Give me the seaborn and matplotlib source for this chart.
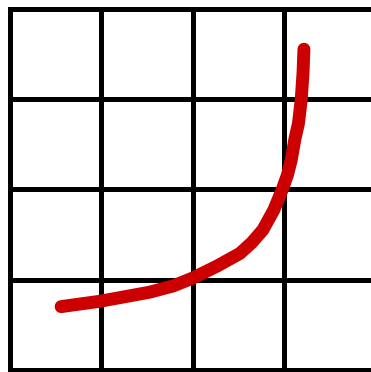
import matplotlib
matplotlib.use('Agg')

import pandas as pd
import matplotlib.pyplot as plt
import seaborn as sns

# grid cells (tick positions along each axis)
grid_x = [0, 1, 2, 3, 4]
grid_y = [0, 1, 2, 3, 4]

# red curve in grid units
curve_x = [0.56, 0.99, 1.26, 1.53, 1.79, 2.01, 2.27, 2.52, 2.65, 2.77,
           2.89, 2.98, 3.04, 3.08, 3.12, 3.16, 3.19, 3.21, 3.22]
curve_y = [0.70, 0.76, 0.81, 0.86, 0.93, 1.02, 1.15, 1.29, 1.41, 1.55,
           1.77, 1.99, 2.16, 2.32, 2.55, 2.73, 2.99, 3.29, 3.55]

df = pd.DataFrame({'x': curve_x, 'y': curve_y})

sns.set_style('white')

fig = plt.figure(figsize=(3.71, 3.72), dpi=100)
fig.patch.set_facecolor('white')
ax = fig.add_axes([0.0269, 0.0058, 0.9843, 0.9711])

# ------------------------------------------------------------------------
# curve
# ------------------------------------------------------------------------
sns.lineplot(data=df, x='x', y='y', sort=False, ax=ax, color='#cc0000',
             linewidth=9.3, solid_capstyle='round', solid_joinstyle='round')

# ------------------------------------------------------------------------
# grid and frame
# ------------------------------------------------------------------------
ax.set_xlim(grid_x[0], grid_x[-1])
ax.set_ylim(grid_y[0], grid_y[-1])
ax.set_xticks(grid_x)
ax.set_yticks(grid_y)
ax.set_axisbelow(True)
ax.grid(True, color='black', linewidth=3.6)
ax.tick_params(length=0, labelbottom=False, labelleft=False)
ax.set_xlabel('')
ax.set_ylabel('')
for side in ['left', 'top', 'bottom', 'right']:
    ax.spines[side].set_visible(True)
    ax.spines[side].set_color('black')
    ax.spines[side].set_linewidth(3.6)

fig.savefig('out.png', dpi=100, facecolor='white')
